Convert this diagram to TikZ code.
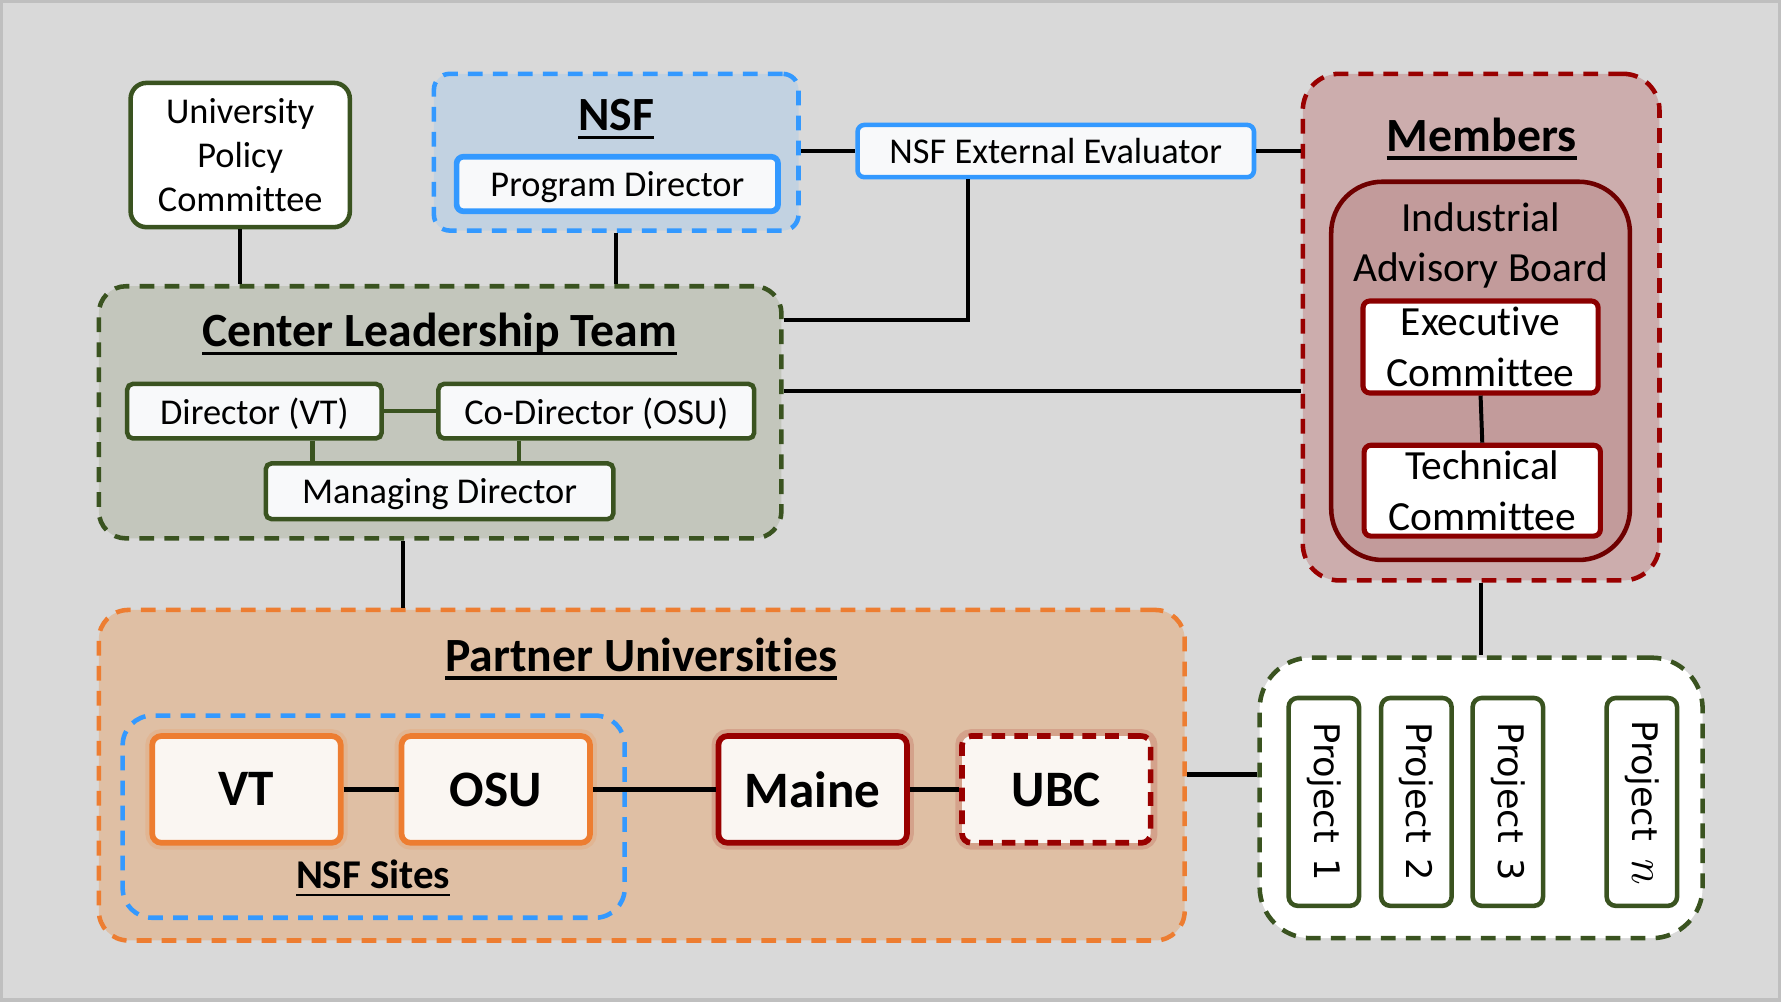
\documentclass[tikz,border=0pt]{standalone}
\usepackage{fontspec}
\setmainfont{Carlito}[Ligatures=NoCommon]
\newfontfamily\djv{DejaVu Sans}
\newfontfamily\lmfam{Latin Modern Roman}
\usetikzlibrary{calc}
\definecolor{bgc}{HTML}{D9D9D9}
\definecolor{framec}{HTML}{BFBFBF}
\definecolor{nsfblue}{HTML}{3399FF}
\definecolor{nsffill}{HTML}{C2D2E1}
\definecolor{dgreen}{HTML}{3A5320}
\definecolor{cltfill}{HTML}{C3C6BC}
\definecolor{dred}{HTML}{990000}
\definecolor{memfill}{HTML}{CCADAD}
\definecolor{iabred}{HTML}{6E0000}
\definecolor{iabfill}{HTML}{C29B9B}
\definecolor{exred}{HTML}{8B0000}
\definecolor{orng}{HTML}{ED7D31}
\definecolor{pufill}{HTML}{DFBFA4}
\definecolor{unifill}{HTML}{FAF6F2}
\definecolor{offwhite}{HTML}{F8F9FA}
\newcommand\myfA{\fontsize{32}{39}\selectfont}
\newcommand\myfT{\fontsize{42}{50}\selectfont\bfseries}
\newcommand\myfC{\fontsize{36.5}{45}\selectfont}
\newcommand\myfU{\fontsize{45}{54}\selectfont\bfseries}
\newcommand\myfS{\fontsize{36}{44}\selectfont\bfseries}
\newcommand\myfP{\djv\fontsize{31}{38}\selectfont}
\newcommand\myN{{\lmfam\itshape\fontsize{42}{48}\selectfont n}}
\begin{document}
\begin{tikzpicture}[x=1pt,y=-1pt,
  bx/.style={draw, line width=4pt, inner sep=0pt, align=center, fill=white},
  one/.style={text depth=0pt},
  grp/.style={draw, line width=4pt, inner sep=0pt, dash pattern=on 13pt off 9pt},
  ttl/.style={inner sep=0pt, anchor=base, font=\myfT},
  uline/.style={line width=3pt, line cap=butt},
  conn/.style={line width=3.5pt, black},
  gconn/.style={line width=4pt, dgreen},
  unibox/.style={bx, line width=5pt, minimum width=166, minimum height=94, rounded corners=8, fill=unifill, font=\myfU, text depth=0pt},
  glow/.style={preaction={draw, solid, line width=12pt, draw opacity=0.15}},
  pbox/.style={bx, draw=dgreen, rotate=-90, minimum width=183, minimum height=62, rounded corners=8, font=\myfP}
]
\fill[bgc] (0,0) rectangle (1568,882);
\draw[framec, line width=3pt] (1.5,1.5) rectangle (1566.5,880.5);
\useasboundingbox (0,0) rectangle (1568,882);

% University Policy Committee
\node[bx, draw=dgreen, minimum width=193, minimum height=127, rounded corners=14, font=\myfA] (upc) at (211.5,136.5) {University\\Policy\\Committee};

% NSF
\node[grp, draw=nsfblue, fill=nsffill, minimum width=321, minimum height=138, rounded corners=14] (nsf) at (542.5,134) {};
\node[ttl] (nsft) at (542.5,115) {NSF};
\draw[uline] ($(nsft.base west)+(0,6)$) -- ($(nsft.base east)+(0,6)$);
\node[bx, one, draw=nsfblue, fill=offwhite, line width=5pt, minimum width=283, minimum height=48, rounded corners=6, font=\myfA] (pd) at (543.5,162) {Program Director};

% Evaluator
\node[bx, one, draw=nsfblue, fill=offwhite, line width=4pt, minimum width=349, minimum height=46, rounded corners=6, font=\myfA] (eval) at (929.5,133) {NSF External Evaluator};

% Center Leadership Team
\node[grp, draw=dgreen, fill=cltfill, minimum width=601, minimum height=222, rounded corners=24] (clt) at (387.5,363) {};
\node[ttl] (cltt) at (387,305) {Center Leadership Team};
\draw[uline] ($(cltt.base west)+(0,6)$) -- ($(cltt.base east)+(0,6)$);
\node[bx, one, draw=dgreen, fill=offwhite, minimum width=224, minimum height=48, rounded corners=5, font=\myfA] (dir) at (224,362) {Director (VT)};
\node[bx, one, draw=dgreen, fill=offwhite, minimum width=278, minimum height=48, rounded corners=5, font=\myfA] (codir) at (525,362) {Co-Director (OSU)};
\node[bx, one, draw=dgreen, fill=offwhite, minimum width=306, minimum height=49, rounded corners=5, font=\myfA] (md) at (387,432.5) {Managing Director};

% Members
\node[grp, draw=dred, fill=memfill, minimum width=314, minimum height=446, rounded corners=32] (mem) at (1304,288) {};
\node[ttl] (memt) at (1304.5,133) {Members};
\draw[uline] ($(memt.base west)+(0,6)$) -- ($(memt.base east)+(0,6)$);
\node[draw=iabred, fill=iabfill, line width=4pt, minimum width=263, minimum height=333, rounded corners=45, inner sep=0pt] (iab) at (1303.5,326.5) {};
\node[inner sep=0pt, anchor=base, font=\myfC] (iab1) at (1303.5,204) {Industrial};
\node[inner sep=0pt, anchor=base, font=\myfC] (iab2) at (1303.5,247.6) {Advisory Board};
\node[bx, draw=exred, line width=4.5pt, minimum width=207, minimum height=81, rounded corners=6, font=\myfC] (exec) at (1303.5,305.5) {Executive\\Committee};
\node[bx, draw=exred, line width=4.5pt, minimum width=208, minimum height=80, rounded corners=6, font=\myfC] (tech) at (1305,432) {Technical\\Committee};

% Partner Universities
\node[grp, draw=orng, fill=pufill, minimum width=956, minimum height=291, rounded corners=26] (pu) at (565,682.5) {};
\node[ttl] (put) at (564.5,591) {Partner Universities};
\draw[uline] ($(put.base west)+(0,6)$) -- ($(put.base east)+(0,6)$);
\node[grp, draw=nsfblue, minimum width=442, minimum height=178, rounded corners=26] (sites) at (329,719) {};
\node[inner sep=0pt, anchor=base, font=\myfS] (sitest) at (328.5,782) {NSF Sites};
\draw[uline, line width=2.5pt] ($(sitest.base west)+(0,6)$) -- ($(sitest.base east)+(0,6)$);
\node[unibox, glow, draw=orng] (vt) at (217,695) {VT};
\node[unibox, glow, draw=orng] (osu) at (436.5,695) {OSU};
\node[unibox, glow, draw=dred] (maine) at (715.5,695) {Maine};
\node[unibox, glow, draw=dred, dash pattern=on 12pt off 8pt] (ubc) at (930,695) {UBC};

% Projects
\node[grp, draw=dgreen, fill=white, minimum width=390, minimum height=247, rounded corners=45] (proj) at (1304,702.5) {};
\node[pbox] (p1) at (1165.5,706) {Project\hspace{0.45em}1};
\node[pbox] (p2) at (1247,706) {Project\hspace{0.45em}2};
\node[pbox] (p3) at (1327.5,706) {Project\hspace{0.45em}3};
\node[pbox] (pn) at (1445.5,706) {Project\hspace{0.45em}\myN};

% connectors
\coordinate (kA) at (852,282);
\coordinate (kB) at (0,344);
\coordinate (kC) at (355,0);
\coordinate (kD) at (275,0);
\coordinate (kE) at (457,0);
\coordinate (kF) at (0,682);
\draw[conn] (upc.south) -- (upc.south |- clt.north);
\draw[conn] (nsf.south) -- (nsf.south |- clt.north);
\draw[conn, line width=4pt] (nsf.east |- eval.west) -- (eval.west);
\draw[conn, line width=4pt] (eval.east) -- (eval.east -| mem.west);
\draw[conn] (eval.south -| kA) -- (kA) -- (kA -| clt.east);
\draw[conn] (clt.east |- kB) -- (mem.west |- kB);
\draw[gconn] (dir.east) -- (codir.west);
\draw[gconn] (dir.south -| kD) -- (md.north -| kD);
\draw[gconn] (codir.south -| kE) -- (md.north -| kE);
\draw[conn] (clt.south -| kC) -- (pu.north -| kC);
\draw[conn] (exec.south) -- (tech.north);
\draw[conn] (mem.south) -- (proj.north);
\draw[conn, line width=4pt] (vt.east) -- (osu.west);
\draw[conn, line width=4pt] (osu.east) -- (maine.west);
\draw[conn, line width=4pt] (maine.east) -- (ubc.west);
\draw[conn, line width=4pt] (pu.east |- kF) -- (proj.west |- kF);
\end{tikzpicture}
\end{document}
